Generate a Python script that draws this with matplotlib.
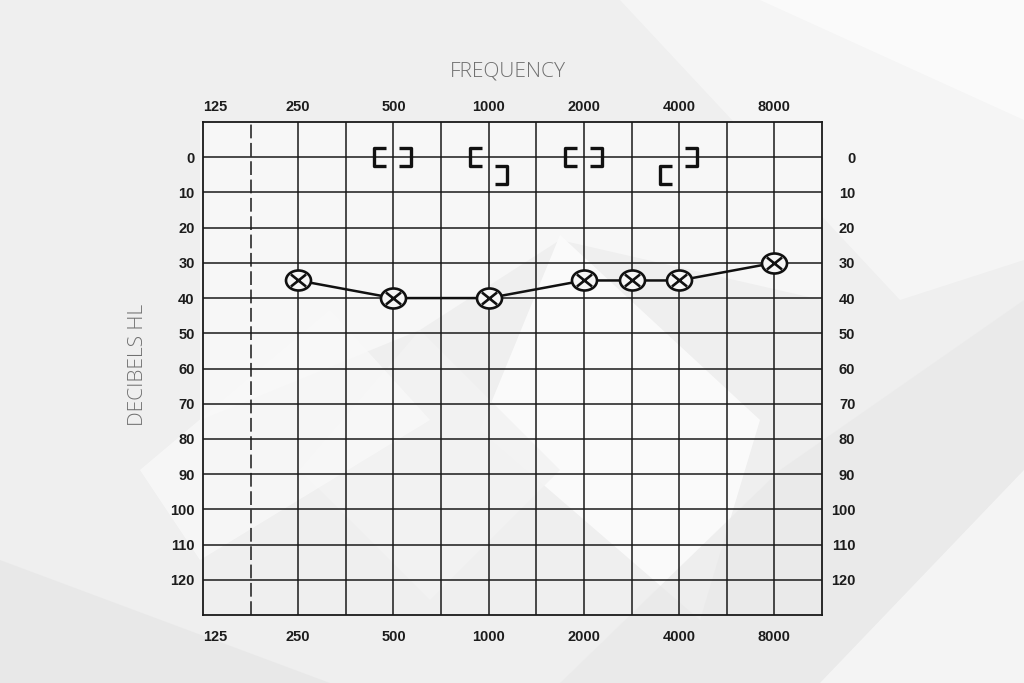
import matplotlib
matplotlib.use("Agg")
import matplotlib.pyplot as plt
from matplotlib.path import Path
from matplotlib.patches import Polygon
import matplotlib.transforms as mtrans
import numpy as np

# ---- data ----
freq_labels = ["125", "250", "500", "1000", "2000", "4000", "8000"]
# audiogram column index of each frequency (half-octave grid)
freq_pos = {"125": 0, "250": 2, "500": 4, "1000": 6, "1500": 7, "2000": 8,
            "3000": 9, "4000": 10, "6000": 11, "8000": 12}
db_ticks = [0, 10, 20, 30, 40, 50, 60, 70, 80, 90, 100, 110, 120]

# left ear air conduction (X)
ac_freqs = ["250", "500", "1000", "2000", "3000", "4000", "8000"]
ac_db = [35, 40, 40, 35, 35, 35, 30]

# bone conduction brackets
bc_left_freqs = ["500", "1000", "2000", "4000"]
bc_left_db = [0, 0, 0, 5]
bc_right_freqs = ["500", "1000", "2000", "4000"]
bc_right_db = [0, 5, 0, 0]

W, H = 1024, 683
fig = plt.figure(figsize=(W / 100, H / 100), dpi=100)
fig.patch.set_facecolor("#efefef")

# ---- decorative background ----
def poly(pts, color, alpha=1.0):
    p = Polygon([(x / W, 1 - y / H) for x, y in pts], closed=True,
                transform=fig.transFigure, facecolor=color, edgecolor="none",
                alpha=alpha, zorder=-10)
    fig.patches.append(p)

poly([(620, 0), (1024, 0), (1024, 260), (900, 300)], "#f6f6f6", 0.9)
poly([(760, 0), (1024, 0), (1024, 120)], "#fbfbfb", 0.9)
poly([(200, 122), (822, 122), (822, 300), (560, 240), (420, 330), (200, 420)], "#f8f8f8", 0.9)
poly([(560, 235), (760, 420), (700, 620), (480, 430)], "#fbfbfb", 0.95)
poly([(420, 330), (560, 470), (430, 600), (300, 470)], "#f3f3f3", 0.9)
poly([(140, 470), (330, 310), (430, 420), (200, 560)], "#f9f9f9", 0.8)
poly([(0, 683), (0, 560), (330, 683)], "#e8e8e8", 0.9)
poly([(560, 683), (780, 470), (1024, 300), (1024, 683)], "#e9e9e9", 0.7)
poly([(820, 683), (1024, 470), (1024, 683)], "#f6f6f6", 0.9)

ax = fig.add_axes([203 / W, 1 - 615 / H, (822 - 203) / W, (615 - 122) / H])
ax.set_zorder(5)
ax.set_facecolor("none")
ax.set_xlim(0, 13)
ax.set_ylim(130, -10)

# grid
for v in range(1, 13):
    ax.axvline(v, color="#1a1a1a", lw=1.1,
               ls=(0, (9, 3)) if v == 1 else "-", zorder=1)
for d in db_ticks:
    ax.axhline(d, color="#1a1a1a", lw=1.1, zorder=1)
for s in ax.spines.values():
    s.set_color("#1a1a1a")
    s.set_linewidth(1.3)

FS = 10.5
TC = "#1c1c1c"
tick_font = dict(family="Liberation Sans", weight="bold", size=FS, color=TC)

ax.set_xticks([freq_pos[f] for f in freq_labels])
ax.set_xticklabels(freq_labels, **tick_font)
ax.tick_params(axis="x", length=0, pad=11, top=True, labeltop=True,
               bottom=True, labelbottom=True)

ax.set_yticks(db_ticks)
ax.set_yticklabels([str(d) for d in db_ticks], **tick_font)
ax.tick_params(axis="y", length=0, pad=6, left=True, right=True,
               labelleft=True, labelright=True)

for t in ax.xaxis.get_major_ticks():
    for lab in (t.label1, t.label2):
        lab.set_fontfamily("Liberation Sans")
        lab.set_fontweight("bold")
        lab.set_fontsize(FS)
        lab.set_color(TC)
        if lab.get_text() == "125":
            lab.set_horizontalalignment("left")
    t.label2.set_transform(t.label2.get_transform() +
                           mtrans.ScaledTranslation(0, -7 / 100, fig.dpi_scale_trans))

for t in ax.yaxis.get_major_ticks():
    lab = t.label2
    lab.set_fontfamily("Liberation Sans")
    lab.set_fontweight("bold")
    lab.set_fontsize(FS)
    lab.set_color(TC)
    lab.set_horizontalalignment("right")
    lab.set_transform(lab.get_transform() +
                      mtrans.ScaledTranslation(25 / 100, 0, fig.dpi_scale_trans))

# ellipse-with-cross marker (audiogram "X" in circle)
circ = Path.unit_circle()
cv = circ.vertices * np.array([1.0, 0.8])
xv = np.array([[-0.6, -0.48], [0.6, 0.48], [-0.6, 0.48], [0.6, -0.48]])
ox_marker = Path(np.vstack([cv, xv]),
                 np.concatenate([circ.codes,
                                 [Path.MOVETO, Path.LINETO, Path.MOVETO, Path.LINETO]]))

xs = [freq_pos[f] for f in ac_freqs]
ax.plot(xs, ac_db, color="#111111", lw=1.8, zorder=3)
ax.plot(xs, ac_db, ls="none", marker=ox_marker, ms=18, mfc="#f6f6f6",
        mec="#111111", mew=1.9, zorder=4)

# bracket markers
def bracket(side):
    if side == "left":
        verts = [(-7, 9), (-19, 9), (-19, -9), (-7, -9)]
    else:
        verts = [(6, 9), (18, 9), (18, -9), (6, -9)]
    path = Path(verts, [Path.MOVETO, Path.LINETO, Path.LINETO, Path.LINETO])
    m = max(abs(v) for p in verts for v in p)
    return path, 2 * m * 0.72

pl, msl = bracket("left")
pr, msr = bracket("right")
ax.plot([freq_pos[f] for f in bc_left_freqs], bc_left_db, ls="none", marker=pl,
        ms=msl, mfc="none", mec="#111111", mew=2.4, zorder=5)
ax.plot([freq_pos[f] for f in bc_right_freqs], bc_right_db, ls="none", marker=pr,
        ms=msr, mfc="none", mec="#111111", mew=2.4, zorder=5)

label_font = dict(family="Open Sans", weight="light", size=15, color="#707070")
fig.text(508 / W, 1 - 72 / H, "FREQUENCY", ha="center", va="center", **label_font)
fig.text(138 / W, 1 - 365 / H, "DECIBELS HL", ha="center", va="center",
         rotation=90, **label_font)

fig.savefig("out.png", dpi=100, facecolor=fig.get_facecolor())
